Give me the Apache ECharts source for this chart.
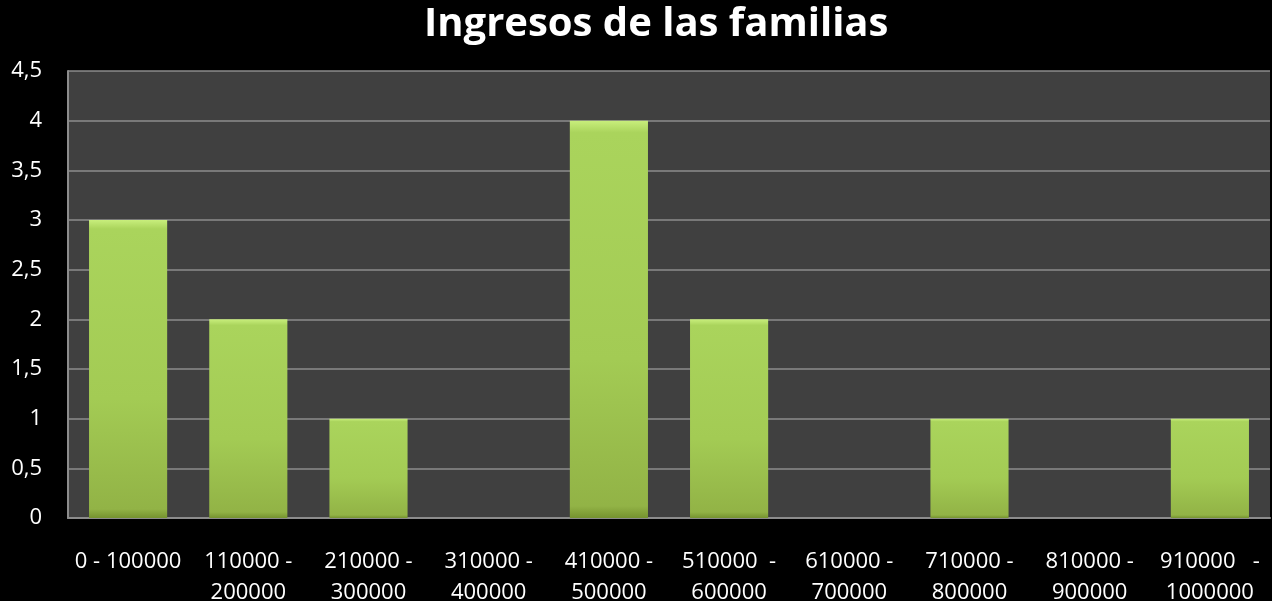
<!DOCTYPE html>
<html>
<head>
<meta charset="utf-8">
<script src="https://cdn.jsdelivr.net/npm/echarts@6/dist/echarts.min.js"></script>
<style>
  html, body { margin: 0; padding: 0; background: #000; }
  #chart { width: 1272px; height: 601px; }
</style>
</head>
<body>
<div id="chart"></div>
<script>
const titleText = 'Ingresos de las familias'
const categories = [
    '0 - 100000',
    '110000 -\n200000',
    '210000 -\n300000',
    '310000 -\n400000',
    '410000 -\n500000',
    '510000  -\n600000',
    '610000 -\n700000',
    '710000 -\n800000',
    '810000 -\n900000',
    '910000   -\n1000000'
]
const familias = [3, 2, 1, 0, 4, 2, 0, 1, 0, 1]

const chart = echarts.init(document.getElementById('chart'))
const font = '"Open Sans", "Noto Sans", sans-serif'

const option = {
    backgroundColor: '#000',
    animation: false,
    title: {
        text: titleText,
        left: 419,
        top: 0,
        textStyle: { color: '#fff', fontSize: 40, fontWeight: 'bold', fontFamily: font }
    },
    grid: {
        left: 68, right: 2, top: 71, bottom: 83,
        backgroundColor: '#404040', show: true, borderWidth: 0,
        containLabel: false, outerBoundsMode: 'none'
    },
    xAxis: {
        type: 'category',
        data: categories,
        axisLine: { lineStyle: { color: '#8c8c8c', width: 2 } },
        axisTick: { show: false },
        axisLabel: {
            color: '#fff', fontSize: 22, fontFamily: font, margin: 28,
            lineHeight: 31, interval: 0, verticalAlign: 'top'
        }
    },
    yAxis: {
        type: 'value',
        min: 0,
        max: 4.5,
        interval: 0.5,
        axisLine: { show: true, lineStyle: { color: '#8c8c8c', width: 2 } },
        axisTick: { show: false },
        splitLine: { lineStyle: { color: '#8c8c8c', width: 1.5 } },
        axisLabel: {
            color: '#fff', fontSize: 22, fontFamily: font, margin: 26,
            formatter: v => String(v).replace('.', ',')
        }
    },
    series: [{
        type: 'bar',
        data: familias,
        barWidth: '65%',
        itemStyle: {
            color: new echarts.graphic.LinearGradient(0, 0, 0, 1, [
                { offset: 0, color: '#c8ee7c' },
                { offset: 0.03, color: '#aad45c' },
                { offset: 0.6, color: '#a3cb54' },
                { offset: 0.97, color: '#92b346' },
                { offset: 1, color: '#75922f' }
            ]),
            borderWidth: 0
        }
    }]
}
chart.setOption(option)
</script>
</body>
</html>
